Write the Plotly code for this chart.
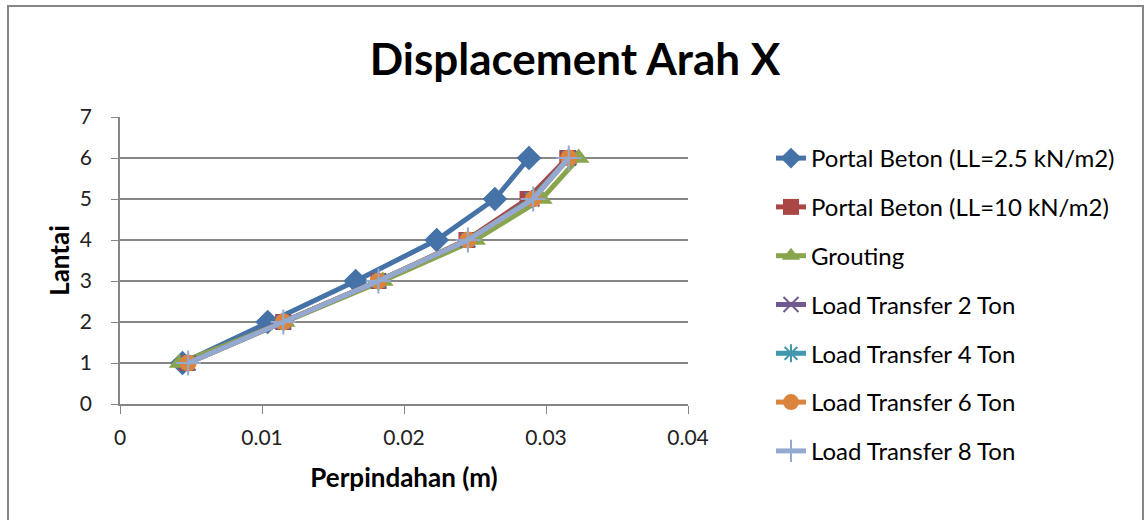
import plotly.graph_objects as go

floors = [1, 2, 3, 4, 5, 6]
names = [
    "Portal Beton (LL=2.5 kN/m2)",
    "Portal Beton (LL=10 kN/m2)",
    "Grouting",
    "Load Transfer 2 Ton",
    "Load Transfer 4 Ton",
    "Load Transfer 6 Ton",
    "Load Transfer 8 Ton",
]
portal_25 = [0.0044, 0.0104, 0.0166, 0.0223, 0.0264, 0.0288]
portal_10 = [0.0047, 0.0115, 0.0182, 0.0244, 0.0287, 0.0315]
grouting = [0.0042, 0.0116, 0.0185, 0.0250, 0.0297, 0.0323]
lt2 = [0.0048, 0.0115, 0.0182, 0.0245, 0.0290, 0.0316]
lt4 = [0.0048, 0.0115, 0.0182, 0.0245, 0.0290, 0.0316]
lt6 = [0.0048, 0.0115, 0.0182, 0.0245, 0.0291, 0.0316]
lt8 = [0.0048, 0.0115, 0.0182, 0.0245, 0.0291, 0.0316]
series = [portal_25, portal_10, grouting, lt2, lt4, lt6, lt8]

colors = ["#4572A7", "#AA4643", "#89A54E", "#71588F", "#4198AF", "#DB843D", "#93A9CF"]
symbols = ["diamond", "square", "triangle-up", "x-thin", "asterisk", "circle", "cross-thin"]
msizes = [19, 16, 19, 15, 15, 17, 18]

x_ticks = [0, 0.01, 0.02, 0.03, 0.04]
x_ticklabels = ["0", "0.01", "0.02", "0.03", "0.04"]
y_ticks = [0, 1, 2, 3, 4, 5, 6, 7]

FONT = "Lato"
fig = go.Figure()
for i, (n, v) in enumerate(zip(names, series)):
    thin = symbols[i] in ("x-thin", "asterisk", "cross-thin")
    fig.add_trace(go.Scatter(
        x=v, y=floors, name=n, mode="lines+markers",
        legendgroup=f"g{i}",
        line=dict(color=colors[i], width=5),
        marker=dict(symbol=symbols[i], size=msizes[i], color=colors[i],
                    line=dict(color=colors[i], width=2 if thin else 0)),
    ))

fig.update_layout(
    width=1145, height=520,
    paper_bgcolor="white", plot_bgcolor="white",
    margin=dict(l=120, r=457, t=117, b=116, autoexpand=False),
    title=dict(text="<b>Displacement Arah X</b>", x=575 / 1145, xanchor="center",
               y=1 - 60 / 520, yanchor="middle",
               font=dict(family=FONT, size=44, color="black")),
    font=dict(family=FONT, color="black"),
    xaxis=dict(range=[0, 0.04], tickvals=x_ticks, ticktext=x_ticklabels,
               showgrid=False, zeroline=False, showline=True, linecolor="#868686",
               linewidth=1.5, ticks="outside", ticklen=8, tickcolor="#868686",
               tickfont=dict(size=21, color="#222"), automargin=False,
               ticklabelstandoff=6,
               title=dict(text="<b>Perpindahan (m)</b>", font=dict(size=26), standoff=21)),
    yaxis=dict(range=[0, 7], tickvals=y_ticks, showgrid=True, gridcolor="#868686",
               gridwidth=1.5, zeroline=False, showline=True, linecolor="#868686",
               linewidth=1.5, ticks="outside", ticklen=7, tickcolor="#868686",
               tickfont=dict(size=21, color="#222"), automargin=False,
               ticklabelstandoff=15,
               title=dict(text="<b>Lantai</b>", font=dict(size=26), standoff=3)),
    legend=dict(x=(771 - 120) / 568, xanchor="left", y=(404 - 136) / 287, yanchor="top",
                font=dict(size=24, color="black"), tracegroupgap=14.6,
                bgcolor="rgba(0,0,0,0)", maxheight=440),
    shapes=[dict(type="rect", xref="paper", yref="paper",
                 x0=(8 - 120) / 568, x1=(1143 - 120) / 568,
                 y0=(404 - 530) / 287, y1=(404 - 6) / 287,
                 line=dict(color="#868686", width=2), layer="below")],
)
fig.write_html("out.html", config={"displayModeBar": False},
               post_script="document.body.style.margin='0';")
